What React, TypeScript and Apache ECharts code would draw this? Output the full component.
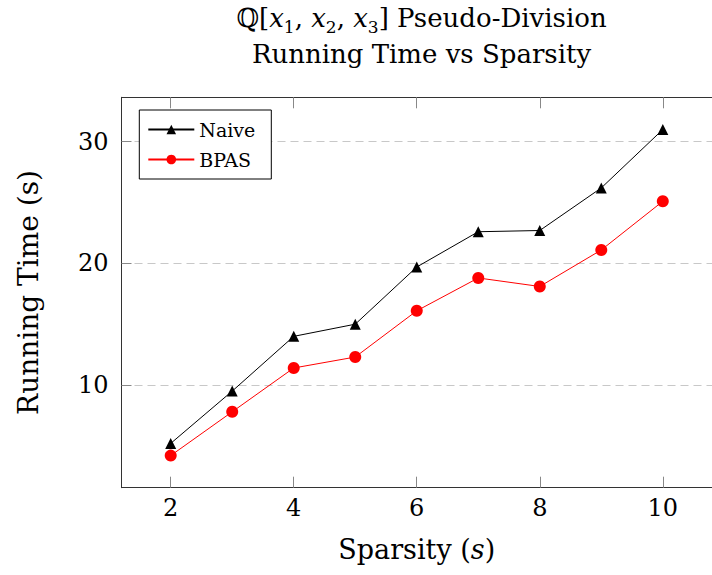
import React, { useEffect, useRef } from "react";
import * as echarts from "echarts";

const xValues = [2, 3, 4, 5, 6, 7, 8, 9, 10];
const naiveValues = [5.2, 9.5, 14.0, 15.0, 19.7, 22.6, 22.7, 26.2, 31.0];
const bpasValues = [4.2, 7.8, 11.4, 12.3, 16.1, 18.8, 18.1, 21.1, 25.1];
const xTicks = [2, 4, 6, 8, 10];
const yTicks = [10, 20, 30];
const seriesNames = ["Naive", "BPAS"];

const FONT = '"DejaVu Serif", "Liberation Serif", serif';

export default function App() {
  const ref = useRef<HTMLDivElement>(null);
  useEffect(() => {
    if (!ref.current) return;
    const chart = echarts.init(ref.current, null, { renderer: "svg" });
    const pairs = (ys: number[]) => xValues.map((x, i) => [x, ys[i]]);
    const xAxisBase = {
      type: "value",
      min: 1.2,
      max: 10.8,
      axisLine: { show: true, lineStyle: { color: "#333", width: 1 } },
      axisTick: { show: true, inside: true, length: 11, lineStyle: { color: "#888" }, customValues: xTicks },
      splitLine: { show: false },
    };
    chart.setOption({
      animation: false,
      backgroundColor: "#fff",
      textStyle: { fontFamily: FONT },
      grid: { left: 121.5, top: 97.3, width: 600, height: 390.4, containLabel: false },
      graphic: [
        {
          type: "text",
          x: 421.5,
          y: 18,
          style: {
            text: "{m|ℚ}[{i|x}{s|1}, {i|x}{s|2}, {i|x}{s|3}] Pseudo-Division",
            align: "center",
            verticalAlign: "middle",
            fontFamily: FONT,
            fontSize: 26,
            fill: "#000",
            rich: {
              m: { fontFamily: FONT, fontSize: 26, lineHeight: 34 },
              i: { fontStyle: "italic", fontSize: 26, fontFamily: FONT, lineHeight: 34 },
              s: { fontSize: 17, fontFamily: FONT, verticalAlign: "bottom", lineHeight: 34 },
            },
          },
        },
        {
          type: "text",
          x: 421.5,
          y: 54,
          style: {
            text: "Running Time vs Sparsity",
            align: "center",
            verticalAlign: "middle",
            fontFamily: FONT,
            fontSize: 26,
            fill: "#000",
          },
        },
      ],
      legend: {
        orient: "vertical",
        left: 139.3,
        top: 110,
        data: seriesNames,
        borderColor: "#000",
        borderWidth: 1,
        backgroundColor: "#fff",
        padding: [10, 16, 10, 8],
        itemGap: 11,
        itemWidth: 46,
        itemHeight: 12,
        textStyle: { fontFamily: FONT, fontSize: 19, color: "#000" },
      },
      xAxis: [
        {
          ...xAxisBase,
          position: "bottom",
          name: "Sparsity ({i|s})",
          nameLocation: "middle",
          nameGap: 48,
          nameTextStyle: {
            fontFamily: FONT,
            fontSize: 27,
            color: "#000",
            rich: { i: { fontStyle: "italic", fontFamily: FONT, fontSize: 27 } },
          },
          axisLabel: { show: true, customValues: xTicks, fontSize: 24, color: "#000", margin: 8, fontFamily: FONT },
        },
        {
          ...xAxisBase,
          position: "top",
          axisLabel: { show: false },
        },
      ],
      yAxis: [
        {
          type: "value",
          min: 1.56,
          max: 33.65,
          position: "left",
          name: "Running Time (s)",
          nameLocation: "middle",
          nameGap: 79,
          nameTextStyle: { fontFamily: FONT, fontSize: 28, color: "#000" },
          axisLine: { show: true, lineStyle: { color: "#333", width: 1 } },
          axisTick: { show: true, inside: true, length: 10, lineStyle: { color: "#888" }, customValues: yTicks },
          axisLabel: { show: true, customValues: yTicks, fontSize: 24, color: "#000", margin: 13, fontFamily: FONT },
          splitLine: { show: true, customValues: yTicks, lineStyle: { color: "#c8c8c8", width: 1.2, type: [8, 5] } },
        },
      ],
      series: [
        {
          name: seriesNames[0],
          type: "line",
          data: pairs(naiveValues),
          symbol: "triangle",
          symbolSize: 11,
          color: "#000",
          lineStyle: { color: "#000", width: 1 },
          itemStyle: { color: "#000" },
        },
        {
          name: seriesNames[1],
          type: "line",
          data: pairs(bpasValues),
          symbol: "circle",
          symbolSize: 12,
          color: "#ff0000",
          lineStyle: { color: "#ff0000", width: 1 },
          itemStyle: { color: "#ff0000" },
        },
      ],
    });
    return () => chart.dispose();
  }, []);
  return (
    <div
      ref={ref}
      style={{ position: "absolute", left: 0, top: 0, width: 712, height: 575, background: "#fff" }}
    />
  );
}
